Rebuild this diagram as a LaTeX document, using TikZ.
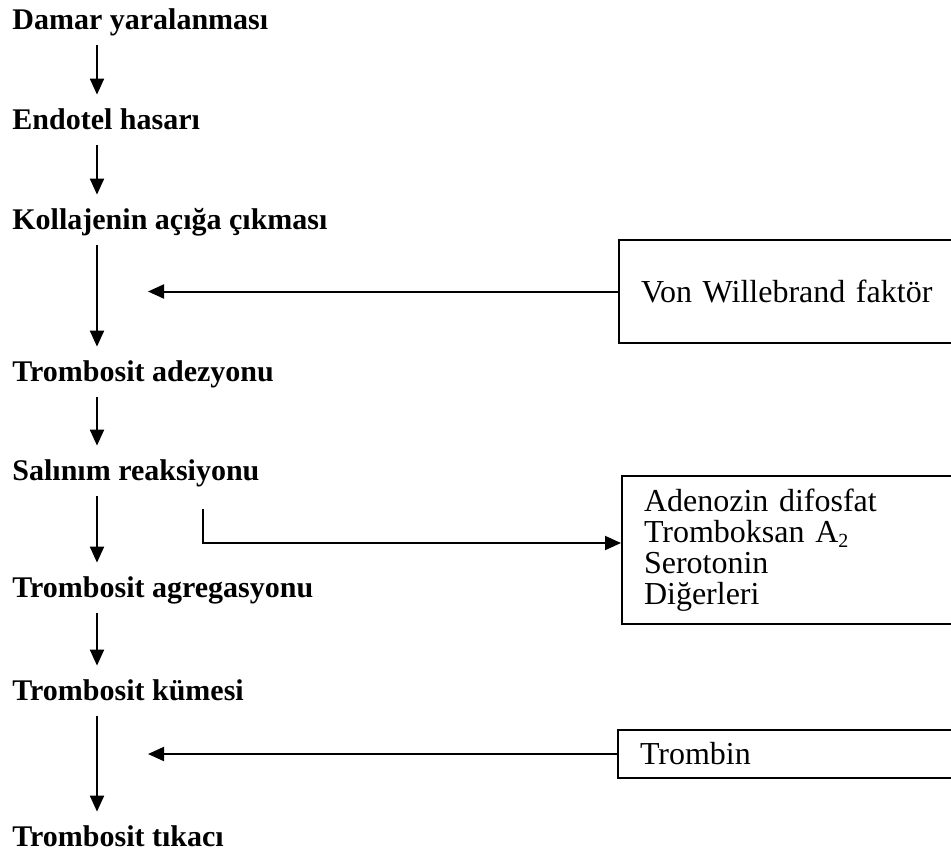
\documentclass[tikz,border=0pt]{standalone}
\usepackage{fontspec}
\setmainfont{Liberation Serif}
\usetikzlibrary{arrows.meta}

\begin{document}
\begin{tikzpicture}[x=0.5pt,y=-0.5pt,
		stage/.style={anchor=base west, inner sep=0pt, text height=10pt, text depth=3pt, font=\fontsize{15}{18}\selectfont\bfseries},
		agent/.style={draw, line width=1pt, anchor=north west, minimum width=180pt, text width=158pt, inner xsep=11pt, inner ysep=0pt, align=left, font=\fontsize{16}{15.5}\selectfont},
		flow/.style={line width=1pt, -{Triangle[length=8pt,width=7pt]}},
		chain/.style={flow, shorten <=5pt, shorten >=7pt}]
		\useasboundingbox (0,0) rectangle (951,857);
		\clip (0,0) rectangle (951,857);
		% Stages of the plug, top to bottom
		\node[stage] (damar) at (12,29) {Damar yaralanması};
		\node[stage] (endotel) at (12,129) {Endotel hasarı};
		\node[stage] (kollajen) at (12,229) {Kollajenin açığa çıkması};
		\node[stage] (adezyon) at (12,381) {Trombosit adezyonu};
		\node[stage] (salinim) at (12,480) {Salınım reaksiyonu};
		\node[stage] (agregasyon) at (12,597) {Trombosit agregasyonu};
		\node[stage] (kume) at (12,700) {Trombosit kümesi};
		\node[stage] (tikac) at (12,846) {Trombosit tıkacı};
		% Factors on the right
		\node[agent, minimum height=51.5pt] (vwf) at (618,239) {Von Willebrand faktör};
		\node[agent, minimum height=74pt] (madde) at (621,475) {Adenozin difosfat\\Tromboksan A\raisebox{-2.5pt}{\fontsize{10}{10}\selectfont 2}\\Serotonin\\Diğerleri};
		\node[agent, minimum height=24pt] (trombin) at (617,729) {Trombin};
		% Column and bend points
		\coordinate (col) at (97,0);
		\coordinate (tip) at (148,0);
		\coordinate (bend) at (203,543);
		% Main chain
		\draw[chain] (damar.south -| col) -- (endotel.north -| col);
		\draw[chain] (endotel.south -| col) -- (kollajen.north -| col);
		\draw[chain] (kollajen.south -| col) -- (adezyon.north -| col);
		\draw[chain] (adezyon.south -| col) -- (salinim.north -| col);
		\draw[chain] (salinim.south -| col) -- (agregasyon.north -| col);
		\draw[chain] (agregasyon.south -| col) -- (kume.north -| col);
		\draw[chain] (kume.south -| col) -- (tikac.north -| col);
		% Side arrows
		\draw[flow] (vwf.west) -- (vwf.west -| tip);
		\draw[flow] ([yshift=-11.5pt]salinim.south -| bend) -- (bend) -- (bend -| madde.west);
		\draw[flow] (trombin.west) -- (trombin.west -| tip);
	\end{tikzpicture}
\end{document}
